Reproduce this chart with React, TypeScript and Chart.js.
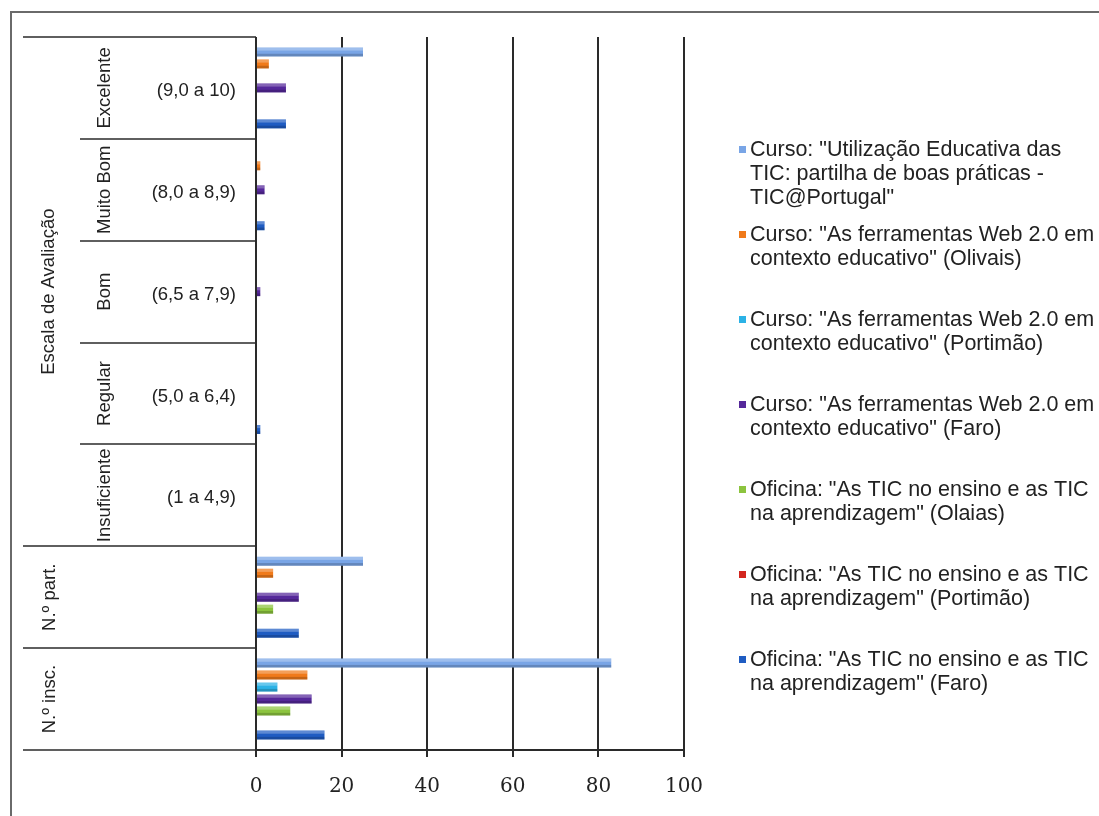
import React, { useEffect, useRef } from "react";
import { Chart, registerables } from "chart.js";

Chart.register(...registerables);

// ---- data ----
const categories = ["Excelente", "Muito Bom", "Bom", "Regular", "Insuficiente", "N.º part.", "N.º insc."];
const rangeLabels = ["(9,0 a 10)", "(8,0 a 8,9)", "(6,5 a 7,9)", "(5,0 a 6,4)", "(1 a 4,9)", "", ""];
const groupTitle = "Escala de Avaliação";
const groupSize = 5; // first five categories belong to the evaluation scale group

const xTicks = [0, 20, 40, 60, 80, 100];

const seriesNames: string[][] = [
  ['Curso: "Utilização Educativa das', "TIC: partilha de boas práticas -", 'TIC@Portugal"'],
  ['Curso: "As ferramentas Web 2.0 em', 'contexto educativo" (Olivais)'],
  ['Curso: "As ferramentas Web 2.0 em', 'contexto educativo" (Portimão)'],
  ['Curso: "As ferramentas Web 2.0 em', 'contexto educativo" (Faro)'],
  ['Oficina: "As TIC no ensino e as TIC', 'na aprendizagem" (Olaias)'],
  ['Oficina: "As TIC no ensino e as TIC', 'na aprendizagem" (Portimão)'],
  ['Oficina: "As TIC no ensino e as TIC', 'na aprendizagem" (Faro)'],
];

const utilizacaoTIC = [25, 0, 0, 0, 0, 25, 83];
const web20Olivais = [3, 1, 0, 0, 0, 4, 12];
const web20Portimao = [0, 0, 0, 0, 0, 0, 5];
const web20Faro = [7, 2, 1, 0, 0, 10, 13];
const oficinaOlaias = [0, 0, 0, 0, 0, 4, 8];
const oficinaPortimao = [0, 0, 0, 0, 0, 0, 0];
const oficinaFaro = [7, 2, 0, 1, 0, 10, 16];

const seriesValues = [utilizacaoTIC, web20Olivais, web20Portimao, web20Faro, oficinaOlaias, oficinaPortimao, oficinaFaro];
const seriesColors = ["#79a5e6", "#f07a1a", "#2bb2e6", "#55289a", "#8cc43e", "#d3261f", "#1f5cc2"];

// ---- styling constants ----
const LABEL_FONT = '18.5px "Liberation Sans", Arial, sans-serif';
const LEGEND_FONT = '21.5px "Liberation Sans", Arial, sans-serif';
const TEXT_COLOR = "#222";
const LINE_COLOR = "#2a2a2a";

// subtle glossy shading on top of each bar (positions taken from the bar elements)
const barShadePlugin = {
  id: "barShade",
  afterDatasetsDraw(chart: any) {
    const ctx: CanvasRenderingContext2D = chart.ctx;
    ctx.save();
    chart.data.datasets.forEach((_: any, di: number) => {
      const meta = chart.getDatasetMeta(di);
      meta.data.forEach((bar: any) => {
        const { x, y, base, height } = bar.getProps(["x", "y", "base", "height"], true);
        const w = x - base;
        if (w < 0.5) return;
        const top = y - height / 2;
        ctx.fillStyle = "rgba(255,255,255,0.28)";
        ctx.fillRect(base, top, w, height * 0.35);
        ctx.fillStyle = "rgba(0,0,0,0.18)";
        ctx.fillRect(base, top + height * 0.7, w, height * 0.3);
      });
    });
    ctx.restore();
  },
};

const leftLabelsPlugin = {
  id: "leftLabels",
  afterDraw(chart: any) {
    const ctx: CanvasRenderingContext2D = chart.ctx;
    const y = chart.scales.y;
    const area = chart.chartArea;
    const edge = (v: number) => Math.round(y.getPixelForValue(v));
    const center = (v: number) => y.getPixelForValue(v);
    ctx.save();
    // outer frame
    ctx.strokeStyle = "#6a6a6a";
    ctx.lineWidth = 2;
    ctx.strokeRect(11, 12, 1200, 900);

    // category boundaries in the label area
    ctx.strokeStyle = LINE_COLOR;
    ctx.lineWidth = 1.6;
    for (let i = 0; i <= categories.length; i++) {
      const py = edge(i - 0.5);
      const inner = i > 0 && i < groupSize;
      const x0 = inner ? 80 : 23;
      ctx.beginPath();
      ctx.moveTo(x0, py);
      ctx.lineTo(area.left, py);
      ctx.stroke();
    }

    ctx.fillStyle = TEXT_COLOR;
    ctx.font = LABEL_FONT;
    ctx.textBaseline = "middle";

    const rotated = (text: string, x: number, yy: number) => {
      ctx.save();
      ctx.translate(x, yy);
      ctx.rotate(-Math.PI / 2);
      ctx.textAlign = "center";
      ctx.fillText(text, 0, 0);
      ctx.restore();
    };

    // group title
    const gTop = y.getPixelForValue(-0.5);
    const gBot = y.getPixelForValue(groupSize - 0.5);
    rotated(groupTitle, 49, (gTop + gBot) / 2);

    categories.forEach((c, i) => {
      const cy = center(i);
      if (i < groupSize) {
        rotated(c, 105, cy);
      } else {
        rotated(c, 50, cy);
      }
      if (rangeLabels[i]) {
        ctx.textAlign = "right";
        ctx.fillText(rangeLabels[i], 236, cy + 3);
      }
    });

    // legend
    ctx.font = LEGEND_FONT;
    ctx.textAlign = "left";
    const legendX = 750;
    const firstY = 150;
    const lineH = 24;
    const pitch = 85;
    seriesNames.forEach((lines, si) => {
      const y0 = firstY + si * pitch;
      ctx.fillStyle = seriesColors[si];
      ctx.fillRect(legendX - 11, y0 - 4, 7, 7);
      ctx.fillStyle = TEXT_COLOR;
      lines.forEach((ln, li) => {
        ctx.fillText(ln, legendX, y0 + li * lineH);
      });
    });
    ctx.restore();
  },
};

export default function App() {
  const ref = useRef<HTMLCanvasElement | null>(null);
  useEffect(() => {
    if (!ref.current) return;
    const chart = new Chart(ref.current, {
      type: "bar",
      data: {
        labels: categories,
        datasets: seriesValues.map((vals, i) => ({
          label: seriesNames[i].join(" "),
          data: vals,
          backgroundColor: seriesColors[i],
          borderWidth: 0,
          categoryPercentage: 0.824,
          barPercentage: 0.75,
        })),
      },
      options: {
        indexAxis: "y",
        animation: false,
        responsive: true,
        maintainAspectRatio: false,
        layout: { padding: { left: 256, right: 415, top: 37, bottom: 0 } },
        plugins: { legend: { display: false }, tooltip: { enabled: false } },
        scales: {
          x: {
            min: 0,
            max: 100,
            afterFit: (s: any) => {
              s.height = 66;
            },
            afterBuildTicks: (s: any) => {
              s.ticks = xTicks.map((v) => ({ value: v }));
            },
            ticks: {
              padding: 18,
              color: TEXT_COLOR,
              font: { family: '"DejaVu Serif", serif', size: 20 },
            },
            grid: { color: LINE_COLOR, lineWidth: 2, tickLength: 7, drawTicks: true },
            border: { display: true, color: LINE_COLOR, width: 2 },
          },
          y: {
            display: false,
          },
        },
      },
      plugins: [barShadePlugin, leftLabelsPlugin],
    });
    return () => chart.destroy();
  }, []);
  return (
    <div style={{ position: "fixed", left: 0, top: 0, width: 1099, height: 816, background: "#fff" }}>
      <canvas ref={ref} />
    </div>
  );
}
